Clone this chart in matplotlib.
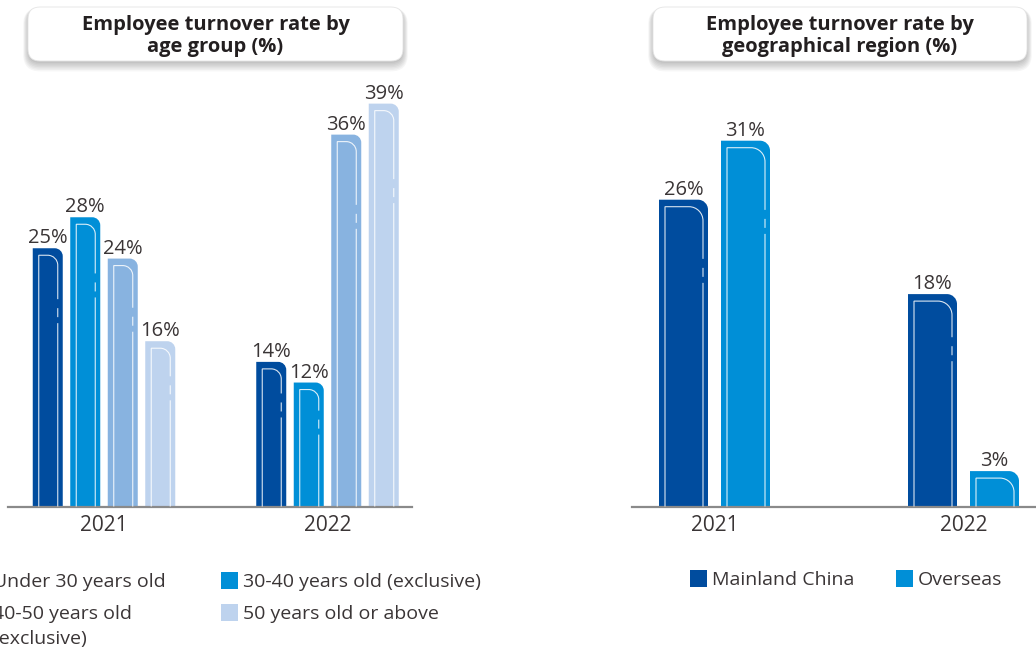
import matplotlib.pyplot as plt
from matplotlib.path import Path
from matplotlib.patches import PathPatch, Rectangle, FancyBboxPatch
from matplotlib.transforms import Affine2D

plt.rcParams['font.family'] = ['Open Sans', 'DejaVu Sans']

# turnover rates (%)
years = ['2021', '2022']
age_groups = ['Under 30 years old', '30-40 years old (exclusive)',
              '40-50 years old\n(exclusive)', '50 years old or above']
under_30 = [25, 14]
age_30_40 = [28, 12]
age_40_50 = [24, 36]
age_50_up = [16, 39]

regions = ['Mainland China', 'Overseas']
mainland = [26, 18]
overseas = [31, 3]

age_colors = ['#004c9e', '#008fd7', '#88b3e0', '#bed3ee']
region_colors = ['#004c9e', '#008fd7']
text_color = '#3a3536'

W, H = 1036, 652
fig = plt.figure(figsize=(W / 100, H / 100), dpi=100)
# pixel coords, origin top-left
pix = Affine2D().scale(1, -1).translate(0, H).scale(0.01) + fig.dpi_scale_trans


def place(l, t, r, b):
    return [l / W, 1 - b / H, (r - l) / W, (b - t) / H]


def draw_bar(ax, xc, w, h, color, r, ri):
    p0 = ax.transData.transform((0, 0))
    p1 = ax.transData.transform((1, 1))
    sx, sy = p1[0] - p0[0], p1[1] - p0[1]
    k = 0.5523
    x0, x1 = xc - w / 2, xc + w / 2
    rx, ry = r / sx, r / sy
    verts = [(x0, 0), (x0, h), (x1 - rx, h), (x1 - rx + k * rx, h),
             (x1, h - ry + k * ry), (x1, h - ry), (x1, 0), (x0, 0)]
    codes = [Path.MOVETO, Path.LINETO, Path.LINETO, Path.CURVE4,
             Path.CURVE4, Path.CURVE4, Path.LINETO, Path.CLOSEPOLY]
    ax.add_patch(PathPatch(Path(verts, codes), facecolor=color,
                           edgecolor='none', zorder=2))

    # thin white inner outline
    xa, xb = x0 + 6 / sx, x1 - 5 / sx
    yt = h - 7 / sy
    rix, riy = ri / sx, ri / sy
    hpx = h * sy
    if hpx > 100:
        d1 = 0.17 * hpx
        cut = h - (d1 + 7) / sy
        stops = [cut, cut - 9 / sy, cut - 18 / sy, cut - 24 / sy]
    else:
        stops = None
    verts = [(xa, 0), (xa, yt), (xb - rix, yt), (xb - rix + k * rix, yt),
             (xb, yt - riy + k * riy), (xb, yt - riy)]
    codes = [Path.MOVETO, Path.LINETO, Path.LINETO, Path.CURVE4,
             Path.CURVE4, Path.CURVE4]
    if stops is None:
        verts += [(xb, 0)]
        codes += [Path.LINETO]
    else:
        verts += [(xb, stops[0]), (xb, stops[1]), (xb, stops[2]),
                  (xb, stops[3]), (xb, 0)]
        codes += [Path.LINETO, Path.MOVETO, Path.LINETO, Path.MOVETO, Path.LINETO]
    ax.add_patch(PathPatch(Path(verts, codes), facecolor='none',
                           edgecolor='white', lw=0.8, alpha=0.85, zorder=3))

    ax.annotate('%d%%' % h, (xc, h), xytext=(0, 3.5), textcoords='offset points',
                ha='center', va='baseline', fontsize=14.5, color=text_color)


def style_axis(ax):
    for s in ['top', 'left', 'right']:
        ax.spines[s].set_visible(False)
    ax.spines['bottom'].set_color('#8a8a8a')
    ax.spines['bottom'].set_linewidth(1.6)
    ax.set_yticks([])
    ax.set_xticks([0, 1])
    ax.set_xticklabels(years)
    ax.tick_params(axis='x', length=0, pad=6, labelsize=15, labelcolor=text_color)


def title_box(l, t, r, b, text):
    for i in range(7):
        g = 0.8 * i
        fig.patches.append(FancyBboxPatch(
            (l - g, t + 2 + 0.6 * i - g), r - l + 2 * g, b - t + 2 * g,
            boxstyle='round,pad=0,rounding_size=%g' % (12 + g),
            transform=pix, facecolor='#000000', edgecolor='none', alpha=0.035))
    fig.patches.append(FancyBboxPatch(
        (l, t), r - l, b - t, boxstyle='round,pad=0,rounding_size=12',
        transform=pix, facecolor='white', edgecolor='#e4e4e4', lw=0.6))
    fig.text((l + r) / 2, (t + b) / 2 + 2, text, transform=pix, ha='center',
             va='center', fontsize=14.5, fontweight='bold', color='#231f20',
             linespacing=1.08)


def legend_item(x, y, color, label):
    fig.patches.append(Rectangle((x, y - 8.5), 17, 17, transform=pix,
                                 facecolor=color, edgecolor='none'))
    # wrapped labels: one text per line
    for j, line in enumerate(label.split('\n')):
        fig.text(x + 22, y + 7 + 25 * j, line, transform=pix, ha='left',
                 va='baseline', fontsize=14, color=text_color)


# age group panel
ax1 = fig.add_axes(place(8, 72, 412, 506.5))
ax1.set_xlim((8 - 104) / 223.5, (412 - 104) / 223.5)
ax1.set_ylim(0, 434.5 / 10.33)
style_axis(ax1)
sx1 = 223.5
for i, (vals, c) in enumerate(zip([under_30, age_30_40, age_40_50, age_50_up], age_colors)):
    for g in range(len(years)):
        draw_bar(ax1, g + (i - 1.5) * 37.5 / sx1, 30 / sx1, vals[g], c, 8, 10)

# region panel
ax2 = fig.add_axes(place(632, 72, 1036, 506.5))
ax2.set_xlim((632 - 714.5) / 249, (1036 - 714.5) / 249)
ax2.set_ylim(0, 434.5 / 11.8)
style_axis(ax2)
sx2 = 249
for i, (vals, c) in enumerate(zip([mainland, overseas], region_colors)):
    for g in range(len(years)):
        draw_bar(ax2, g + (i - 0.5) * 62 / sx2, 49 / sx2, vals[g], c, 10, 14)

title_box(28, 7, 403, 61, 'Employee turnover rate by\nage group (%)')
title_box(653, 7, 1027, 61, 'Employee turnover rate by\ngeographical region (%)')

# legends (first column runs off the left edge)
legend_item(-29, 580, age_colors[0], age_groups[0])
legend_item(221, 580, age_colors[1], age_groups[1])
legend_item(-29, 612, age_colors[2], age_groups[2])
legend_item(221, 612, age_colors[3], age_groups[3])
legend_item(690, 578, region_colors[0], regions[0])
legend_item(896, 578, region_colors[1], regions[1])

fig.savefig('out.png', dpi=100)
